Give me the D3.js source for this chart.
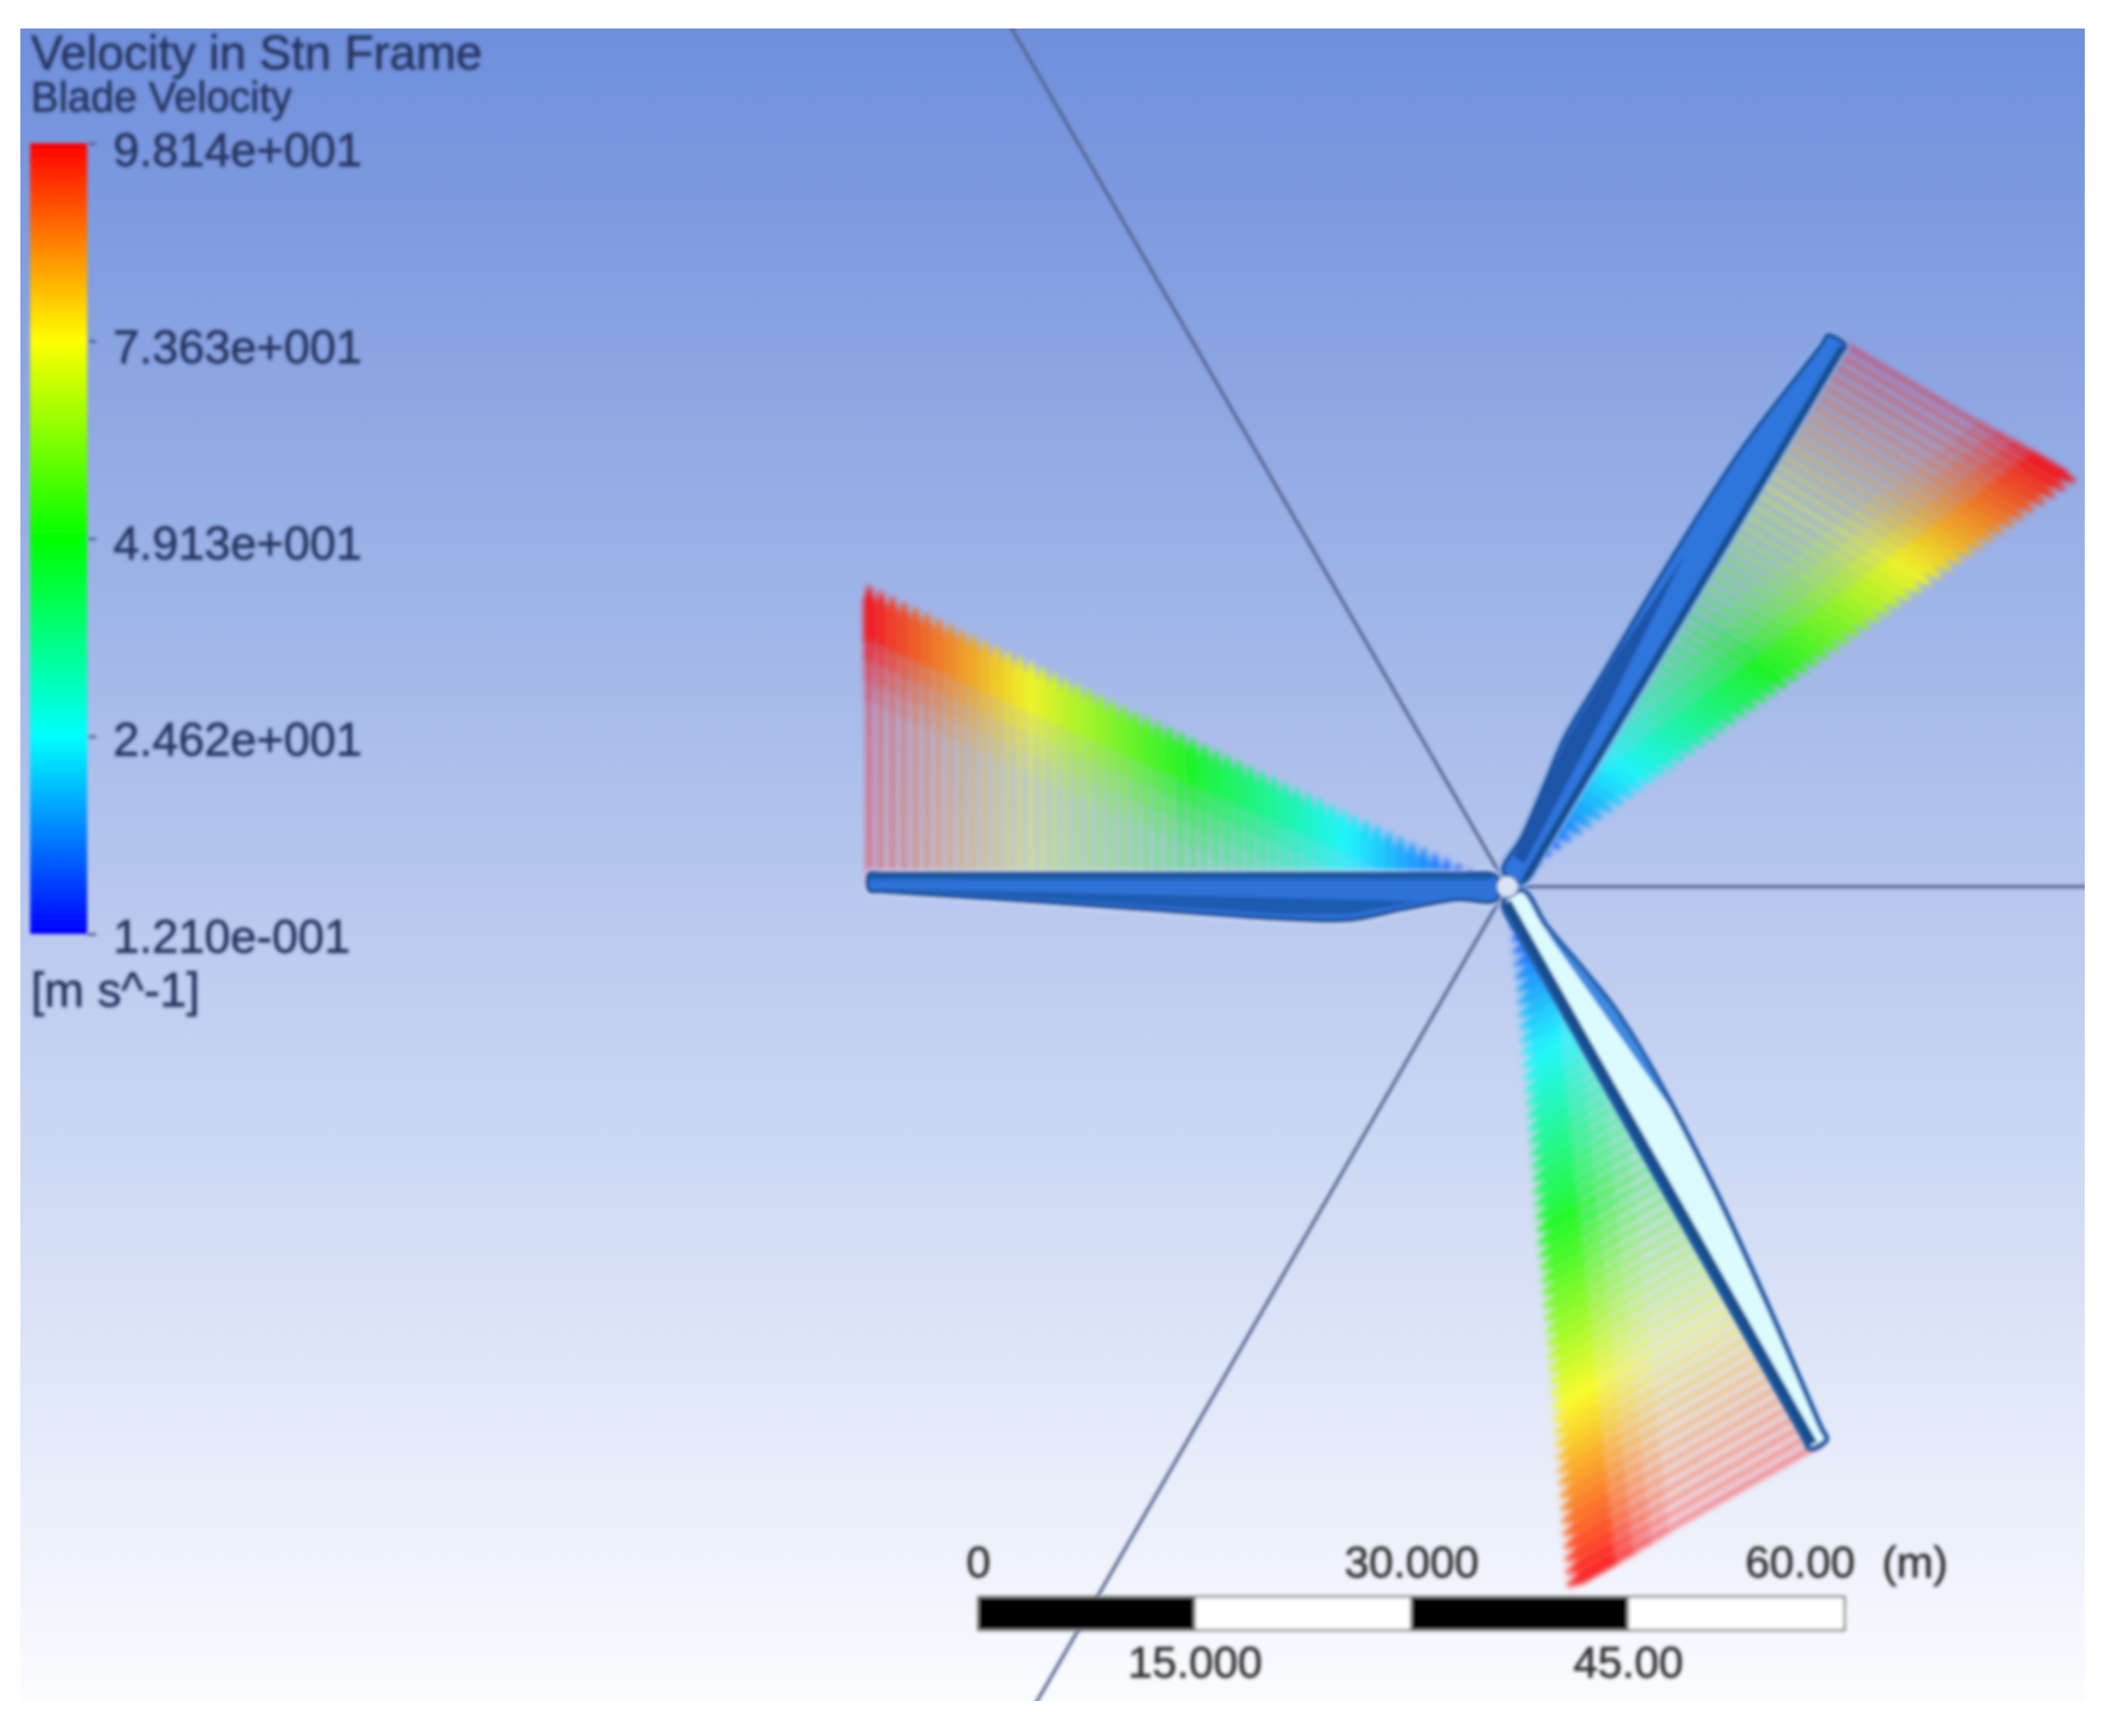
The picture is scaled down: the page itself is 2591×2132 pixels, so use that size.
<!DOCTYPE html>
<html>
<head>
<meta charset="utf-8">
<title>Velocity in Stn Frame</title>
<script src="https://cdn.jsdelivr.net/npm/d3@7"></script>
<style>
  html, body { margin: 0; background: #fff; }
  text { font-family: "Liberation Sans", Arial, sans-serif; }
  .axis path { display: none; }
</style>
</head>
<body>
<div id="chart"></div>
<script>
// Legend values (m/s)
const legendValues = [98.14, 73.63, 49.13, 24.62, 0.121];
const legendLabels = ["9.814e+001", "7.363e+001", "4.913e+001", "2.462e+001", "1.210e-001"];
const legendColors = ["#ff0000", "#ffff00", "#00ff00", "#00ffff", "#0000ff"];

// Scale bar (m)
const scaleBarTicks = [0, 15, 30, 45, 60];
const scaleBarLabels = ["0", "15.000", "30.000", "45.00", "60.00"];

// Blade directions, degrees counter-clockwise from +x
const bladeAngles = [180, 59.2, -60.5];
// Arrows on each blade look slightly different in length in the view
const bladeArrowScale = [1.03, 0.96, 1.0];
// Hub axis lines, degrees
const axisAngles = [120, 0, 240];

// Blade outlines (m): radius, straight edge, and the curved back edge of each blade
const profileRadius = [0.75, 3.55, 7.3, 11, 15.7, 25, 34.4, 43.4, 44.2];
const profileFront = [0.75, 0.93, 0.93, 0.93, 0.93, 0.93, 0.93, 0.93, 0.93];
const backLeft = [-0.93, -0.93, -1.6, -2.33, -2.24, -1.6, -0.93, -0.35, -0.28];
const backUpper = [-0.8, -0.9, -1.4, -1.9, -1.9, -1.9, -1.6, -0.55, -0.5];
const backLower = [-0.8, -1.0, -1.7, -2.3, -2.5, -2.2, -1.4, -0.45, -0.4];

// Arrow stations along a blade (m) and speed at each (m/s)
const stationRadius = [1.0, 1.8, 2.6, 3.4, 4.2, 5.0, 5.8, 6.6, 7.4, 8.2, 9.0, 9.8, 10.6, 11.4, 12.2,
  13.0, 13.8, 14.6, 15.4, 16.2, 17.0, 17.8, 18.6, 19.4, 20.2, 21.0, 21.8, 22.6, 23.4, 24.2,
  25.0, 25.8, 26.6, 27.4, 28.2, 29.0, 29.8, 30.6, 31.4, 32.2, 33.0, 33.8, 34.6, 35.4, 36.2,
  37.0, 37.8, 38.6, 39.4, 40.2, 41.0, 41.8, 42.6, 43.4, 44.2];
const stationSpeed = [2.2, 4.0, 5.8, 7.5, 9.3, 11.1, 12.9, 14.6, 16.4, 18.2, 20.0, 21.8, 23.5, 25.3, 27.1,
  28.9, 30.6, 32.4, 34.2, 36.0, 37.7, 39.5, 41.3, 43.1, 44.8, 46.6, 48.4, 50.2, 52.0, 53.7,
  55.5, 57.3, 59.1, 60.8, 62.6, 64.4, 66.2, 67.9, 69.7, 71.5, 73.3, 75.1, 76.8, 78.6, 80.4,
  82.2, 83.9, 85.7, 87.5, 89.3, 91.0, 92.8, 94.6, 96.4, 98.1];

const width = 2591;
const height = 2132;
const plot = { left: 25, top: 35, right: 2560, bottom: 2089 };
const hub = { x: 1851, y: 1089 };
const pxPerMetre = 17.73;

// nested arrow heads, longest first, so the band fades toward the blade
const headLayers = [
  { length: 7.0, opacity: 0.13 },
  { length: 5.6, opacity: 0.18 },
  { length: 4.2, opacity: 0.28 },
  { length: 2.8, opacity: 0.5 }
];

const svg = d3.select("#chart").append("svg")
  .attr("width", width)
  .attr("height", height)
  .attr("viewBox", `0 0 ${width} ${height}`)
  .style("display", "block");

const defs = svg.append("defs");

const bg = defs.append("linearGradient")
  .attr("id", "bg").attr("x1", 0).attr("y1", 0).attr("x2", 0).attr("y2", 1);
bg.append("stop").attr("offset", 0).attr("stop-color", "#6f8fdc");
bg.append("stop").attr("offset", 1).attr("stop-color", "#fbfcff");

defs.append("clipPath").attr("id", "plotClip").append("rect")
  .attr("x", plot.left).attr("y", plot.top)
  .attr("width", plot.right - plot.left).attr("height", plot.bottom - plot.top);

defs.append("filter").attr("id", "softText").append("feGaussianBlur").attr("stdDeviation", 2);
defs.append("filter").attr("id", "softMark").append("feGaussianBlur").attr("stdDeviation", 3.5);

// Scene scales: metres around the hub to pixels
const sx = d3.scaleLinear().domain([0, 60]).range([hub.x, hub.x + 60 * pxPerMetre]);
const sy = d3.scaleLinear().domain([0, 60]).range([hub.y, hub.y - 60 * pxPerMetre]);
// Speed to arrow length in scene metres
const arrowLength = d3.scaleLinear().domain([0, 98.14]).range([0, 20.25]);
// Rainbow from the legend
const color = d3.scaleLinear().domain(legendValues).range(legendColors);

const rad = d => d * Math.PI / 180;

// point at radius r along a blade, off metres toward the direction of travel
function bladePoint(angle, r, off) {
  const a = rad(angle), n = rad(angle - 90);
  return [r * Math.cos(a) + off * Math.cos(n), r * Math.sin(a) + off * Math.sin(n)];
}
const line = d3.line().x(d => sx(d[0])).y(d => sy(d[1]));
const closed = d3.line().x(d => sx(d[0])).y(d => sy(d[1])).curve(d3.curveLinearClosed);
const smooth = d3.line().x(d => sx(d[0])).y(d => sy(d[1])).curve(d3.curveCatmullRomClosed.alpha(0.5));

svg.append("rect")
  .attr("x", plot.left).attr("y", plot.top)
  .attr("width", plot.right - plot.left).attr("height", plot.bottom - plot.top)
  .attr("fill", "url(#bg)");

const scene = svg.append("g").attr("clip-path", "url(#plotClip)");

// Hub axis lines
scene.append("g").attr("filter", "url(#softText)").selectAll("path")
  .data(axisAngles)
  .join("path")
  .attr("d", a => line([[0, 0], bladePoint(a, 90, 0)]))
  .attr("fill", "none")
  .attr("stroke", "#56648f")
  .attr("stroke-width", 4);

// Velocity arrows
const bladeRows = bladeAngles.map((a, b) =>
  stationRadius.map((r, i) => ({ a, r, v: stationSpeed[i], len: arrowLength(stationSpeed[i]) * bladeArrowScale[b] })));
const arrows = scene.append("g").attr("filter", "url(#softMark)");

const bladeGroups = arrows.selectAll("g")
  .data(bladeRows)
  .join("g");

bladeGroups.selectAll("path.shaft")
  .data(d => d)
  .join("path")
  .attr("class", "shaft")
  .attr("d", d => line([bladePoint(d.a, d.r, 0), bladePoint(d.a, d.r, d.len)]))
  .attr("stroke", d => color(d.v))
  .attr("stroke-width", 9)
  .attr("stroke-opacity", 0.4)
  .attr("fill", "none");

function headPath(d, length) {
  const h = Math.min(d.len, length + 0.05 * d.len);
  const w = 0.42;
  const shoulder = Math.min(1.0, h * 0.5);
  return closed([
    bladePoint(d.a, d.r, d.len),
    bladePoint(d.a, d.r - w, d.len - shoulder),
    bladePoint(d.a, d.r - w, d.len - h),
    bladePoint(d.a, d.r + w, d.len - h),
    bladePoint(d.a, d.r + w, d.len - shoulder)
  ]);
}

headLayers.forEach((layer, k) => {
  bladeGroups.selectAll(`path.head${k}`)
    .data(d => d)
    .join("path")
    .attr("class", `head${k}`)
    .attr("d", d => headPath(d, layer.length))
    .attr("fill", d => color(d.v))
    .attr("fill-opacity", layer.opacity);
});

// Blades
function outline(angle, back) {
  const front = profileRadius.map((r, i) => bladePoint(angle, r, profileFront[i]));
  const rear = profileRadius.map((r, i) => bladePoint(angle, r, back[i])).reverse();
  return smooth(front.concat(rear));
}
function strip(angle, from, to, offA, offB) {
  return closed([
    bladePoint(angle, from, offA), bladePoint(angle, to, offA),
    bladePoint(angle, to, offB), bladePoint(angle, from, offB)
  ]);
}

const blades = scene.append("g").attr("filter", "url(#softText)");
const leftAngle = bladeAngles[0], upperAngle = bladeAngles[1], lowerAngle = bladeAngles[2];

// left blade
blades.append("path")
  .attr("d", outline(leftAngle, backLeft))
  .attr("fill", "none")
  .attr("stroke", "#d6e6ff")
  .attr("stroke-width", 12)
  .attr("stroke-opacity", 0.45);
blades.append("path")
  .attr("d", outline(leftAngle, backLeft))
  .attr("fill", "#2f72d8")
  .attr("stroke", "#1c539f")
  .attr("stroke-width", 5);
blades.append("path")
  .attr("d", strip(leftAngle, 1, 44.2, 0.93, 0.5))
  .attr("fill", "#1a5aa6");
blades.append("path")
  .attr("d", closed([
    bladePoint(leftAngle, 6, -1.0),
    bladePoint(leftAngle, 11, -1.9),
    bladePoint(leftAngle, 15.7, -1.9),
    bladePoint(leftAngle, 25, -1.3),
    bladePoint(leftAngle, 44, -0.1)
  ]))
  .attr("fill", "#1f5cb0");

// upper blade
blades.append("path")
  .attr("d", outline(upperAngle, backUpper))
  .attr("fill", "none")
  .attr("stroke", "#86b4f2")
  .attr("stroke-width", 12)
  .attr("stroke-opacity", 0.6);
blades.append("path")
  .attr("d", outline(upperAngle, backUpper))
  .attr("fill", "#2f74dc")
  .attr("stroke", "#1c539f")
  .attr("stroke-width", 5);
blades.append("path")
  .attr("d", strip(upperAngle, 1, 44, 0.93, 0.55))
  .attr("fill", "#18508f");
blades.append("path")
  .attr("d", closed([
    bladePoint(upperAngle, 2, -0.7),
    bladePoint(upperAngle, 11, -1.7),
    bladePoint(upperAngle, 18, -1.7),
    bladePoint(upperAngle, 26, -1.2),
    bladePoint(upperAngle, 14, -0.4),
    bladePoint(upperAngle, 2, 0.2)
  ]))
  .attr("fill", "#1f55a8");

// lower blade: pale face between dark edges
blades.append("path")
  .attr("d", outline(lowerAngle, backLower))
  .attr("fill", "#dcfbff")
  .attr("stroke", "#2a62ad")
  .attr("stroke-width", 7);
blades.append("path")
  .attr("d", strip(lowerAngle, 0.9, 44, 0.93, 0.25))
  .attr("fill", "#15508f");
blades.append("path")
  .attr("d", closed([
    bladePoint(lowerAngle, 4, -0.8),
    bladePoint(lowerAngle, 7.3, -1.6),
    bladePoint(lowerAngle, 11, -2.2),
    bladePoint(lowerAngle, 14.5, -2.4),
    bladePoint(lowerAngle, 19, -2.3)
  ]))
  .attr("fill", "#3f8be2");

// Hub
scene.append("circle")
  .attr("cx", sx(0)).attr("cy", sy(0)).attr("r", 13)
  .attr("fill", "#dbe3f6")
  .attr("stroke", "#9aa6c8")
  .attr("stroke-width", 2)
  .attr("filter", "url(#softText)");

// Legend
const legendBar = { left: 37, right: 107, top: 176, bottom: 1147 };
const legendY = d3.scaleLinear().domain([0.121, 98.14]).range([legendBar.bottom, legendBar.top]);

const legendFill = defs.append("linearGradient")
  .attr("id", "legendFill").attr("x1", 0).attr("y1", 0).attr("x2", 0).attr("y2", 1);
legendFill.selectAll("stop")
  .data(legendValues)
  .join("stop")
  .attr("offset", d => (legendY(d) - legendBar.top) / (legendBar.bottom - legendBar.top))
  .attr("stop-color", d => color(d));

const legend = svg.append("g").attr("filter", "url(#softText)");

legend.append("rect")
  .attr("x", legendBar.left).attr("y", legendBar.top)
  .attr("width", legendBar.right - legendBar.left)
  .attr("height", legendBar.bottom - legendBar.top)
  .attr("fill", "url(#legendFill)");

const legendAxis = legend.append("g")
  .attr("class", "axis")
  .attr("transform", `translate(${legendBar.right},0)`)
  .call(d3.axisRight(legendY)
    .tickValues(legendValues)
    .tickSize(11)
    .tickPadding(21)
    .tickFormat((d, i) => legendLabels[i]));

legendAxis.selectAll("line").attr("stroke", "#4a5a86").attr("stroke-width", 3);
legendAxis.selectAll("text")
  .attr("font-family", null)
  .attr("font-size", 57.5)
  .attr("fill", "#26355f")
  .attr("stroke", "#26355f")
  .attr("stroke-width", 0.8)
  .attr("dy", (d, i) => [27, 27, 25, 23, 22][i]);

const titles = [
  { text: "Velocity in Stn Frame", y: 85, size: 58.7 },
  { text: "Blade Velocity", y: 137, size: 51 },
  { text: "[m s^-1]", y: 1236, size: 58.8 }
];
legend.selectAll("text.title")
  .data(titles)
  .join("text")
  .attr("class", "title")
  .attr("x", 38)
  .attr("y", d => d.y)
  .attr("font-size", d => d.size)
  .attr("fill", "#26355f")
  .attr("stroke", "#26355f")
  .attr("stroke-width", 0.8)
  .text(d => d.text);

// Scale bar
const barX = d3.scaleLinear().domain([0, 60]).range([1201, 2265]);
const barTop = 1961, barBottom = 2002;
const scaleBar = svg.append("g").attr("filter", "url(#softText)");

scaleBar.selectAll("rect")
  .data(d3.pairs(scaleBarTicks))
  .join("rect")
  .attr("x", d => barX(d[0]))
  .attr("y", barTop)
  .attr("width", d => barX(d[1]) - barX(d[0]))
  .attr("height", barBottom - barTop)
  .attr("fill", (d, i) => i % 2 === 0 ? "#000" : "#fff")
  .attr("stroke", "#888")
  .attr("stroke-width", 3);

const upperTicks = scaleBarTicks.filter((d, i) => i % 2 === 0);
const lowerTicks = scaleBarTicks.filter((d, i) => i % 2 === 1);
const labelFor = d => scaleBarLabels[scaleBarTicks.indexOf(d)];

const upperAxis = scaleBar.append("g")
  .attr("class", "axis")
  .attr("transform", `translate(0,${barTop})`)
  .call(d3.axisTop(barX).tickValues(upperTicks).tickSize(0).tickPadding(24).tickFormat(labelFor));
const lowerAxis = scaleBar.append("g")
  .attr("class", "axis")
  .attr("transform", `translate(0,${barBottom})`)
  .call(d3.axisBottom(barX).tickValues(lowerTicks).tickSize(0).tickPadding(20).tickFormat(labelFor));

scaleBar.selectAll(".axis text")
  .attr("font-family", null)
  .attr("font-size", 54)
  .attr("fill", "#333")
  .attr("stroke", "#333")
  .attr("stroke-width", 0.8);
upperAxis.selectAll("text").filter(d => d === 60).attr("dx", -55);

scaleBar.append("text")
  .attr("x", 2311)
  .attr("y", 1937)
  .attr("font-size", 54)
  .attr("fill", "#333")
  .attr("stroke", "#333")
  .attr("stroke-width", 0.8)
  .text("(m)");
</script>
</body>
</html>
